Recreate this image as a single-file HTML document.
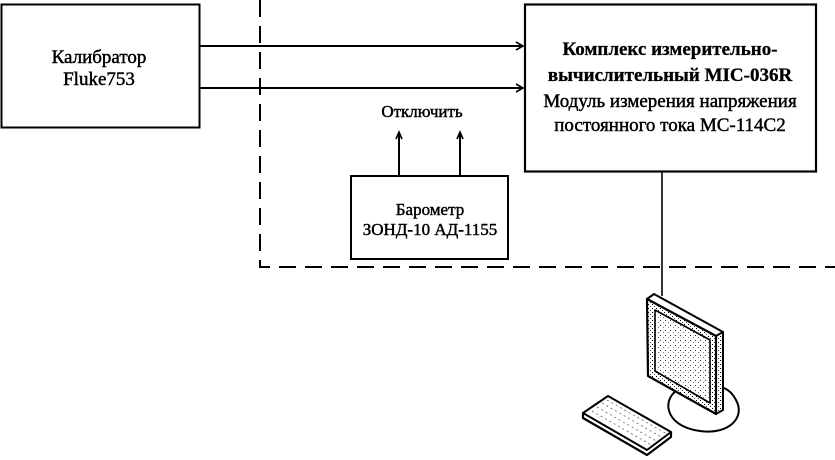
<!DOCTYPE html>
<html><head><meta charset="utf-8"><style>
html,body{margin:0;padding:0;background:#fff;}
svg{display:block;}
text{font-family:"Liberation Serif","DejaVu Serif",serif;fill:#000;}
.r{stroke:#000;stroke-width:0.45;}
</style></head><body>
<svg width="835" height="460" viewBox="0 0 835 460" xmlns="http://www.w3.org/2000/svg">
<defs>
<pattern id="dense" width="4" height="4" patternUnits="userSpaceOnUse">
<rect width="4" height="4" fill="#fff"/><rect x="0" y="0" width="1" height="1" fill="#000"/><rect x="2" y="2" width="1" height="1" fill="#444"/>
</pattern>
<pattern id="sparse" width="5" height="5" patternUnits="userSpaceOnUse">
<rect width="5" height="5" fill="#fff"/><rect x="0" y="0" width="1" height="1" fill="#333"/><rect x="3" y="2" width="1" height="1" fill="#777"/>
</pattern>
</defs>

<!-- dashed boundary -->
<path d="M260 0 V267 H835" fill="none" stroke="#000" stroke-width="2" stroke-dasharray="17 9"/>

<!-- Calibrator box -->
<rect x="1.5" y="4.5" width="198" height="123" fill="#fff" stroke="#000" stroke-width="2"/>
<text class="r" x="99" y="63" font-size="19" text-anchor="middle">Калибратор</text>
<text class="r" x="99" y="85" font-size="19" text-anchor="middle">Fluke753</text>

<!-- arrows to MIC -->
<line x1="200" y1="46" x2="522" y2="46" stroke="#000" stroke-width="2"/>
<path d="M516 42 L523 46 L516 50" fill="none" stroke="#000" stroke-width="1.6"/>
<line x1="200" y1="88" x2="522" y2="88" stroke="#000" stroke-width="2"/>
<path d="M516 84 L523 88 L516 92" fill="none" stroke="#000" stroke-width="1.6"/>

<!-- MIC box -->
<rect x="525" y="4.5" width="291" height="167" fill="#fff" stroke="#000" stroke-width="2.2"/>
<text x="670" y="55" font-size="19" font-weight="bold" text-anchor="middle" stroke="#000" stroke-width="0.3">Комплекс измерительно-</text>
<text x="670" y="81" font-size="19" font-weight="bold" text-anchor="middle" stroke="#000" stroke-width="0.3">вычислительный MIC-036R</text>
<text class="r" x="670" y="107" font-size="19" text-anchor="middle">Модуль измерения напряжения</text>
<text class="r" x="670" y="131" font-size="19" text-anchor="middle">постоянного тока МС-114С2</text>

<!-- Отключить -->
<text class="r" x="422" y="117" font-size="17" text-anchor="middle">Отключить</text>
<line x1="399" y1="133" x2="399" y2="176" stroke="#000" stroke-width="2"/>
<path d="M396 139 L399 132 L402 139" fill="none" stroke="#000" stroke-width="1.6"/>
<line x1="460" y1="133" x2="460" y2="176" stroke="#000" stroke-width="2"/>
<path d="M457 139 L460 132 L463 139" fill="none" stroke="#000" stroke-width="1.6"/>

<!-- Barometer -->
<rect x="351" y="176" width="157" height="83" fill="#fff" stroke="#000" stroke-width="2"/>
<text class="r" x="430" y="215" font-size="17" text-anchor="middle">Барометр</text>
<text class="r" x="430" y="235" font-size="17" text-anchor="middle">ЗОНД-10 АД-1155</text>

<!-- cable to computer -->
<line x1="662" y1="172" x2="662" y2="296" stroke="#000" stroke-width="1.6"/>

<!-- monitor stand -->
<path d="M680 389 C662 396 662 426 700 431 C728 435 746 418 736 400 C733 394 729 390 724 388" fill="#fff" stroke="#000" stroke-width="2"/>

<!-- monitor -->
<path d="M647 299 L654 294 L723 332 L716 336 Z" fill="#fff" stroke="#000" stroke-width="2" stroke-linejoin="round"/>
<path d="M716 336 L723 332 L723 410 L716 414 Z" fill="url(#dense)" stroke="#000" stroke-width="2" stroke-linejoin="round"/>
<path d="M647 299 L716 336 L716 414 L648 376 Z" fill="url(#dense)" stroke="#000" stroke-width="2.2" stroke-linejoin="round"/>
<path d="M655 310 L710 340 L710 403 L655 371 Z" fill="url(#sparse)" stroke="#000" stroke-width="1.6" stroke-linejoin="round"/>

<!-- keyboard -->
<path d="M583 413 L583 418 L647 455 L671 437 L671 432" fill="#fff" stroke="#000" stroke-width="2.2" stroke-linejoin="round"/>
<path d="M583 413 L608 396 L671 432 L647 450 Z" fill="#fff" stroke="#000" stroke-width="2" stroke-linejoin="round"/>
<g stroke="#666" stroke-width="0.8" stroke-dasharray="2 3" fill="none">
<path d="M592 411 L653 446"/>
<path d="M597 407 L658 442"/>
<path d="M602 403 L663 438"/>
<path d="M607 400 L667 434"/>
</g>
</svg>
</body></html>
